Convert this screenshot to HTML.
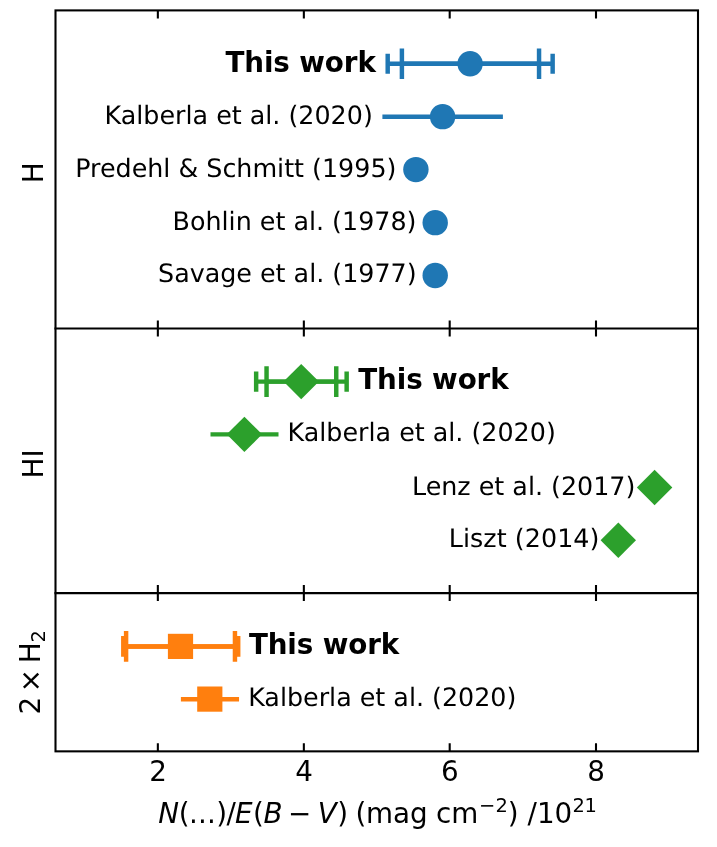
<!DOCTYPE html>
<html lang="en">
<head>
<meta charset="utf-8">
<title>N(...)/E(B-V) comparison</title>
<style>
  html, body { margin: 0; padding: 0; background: #ffffff; }
  body { width: 717px; height: 847px; overflow: hidden; }
  svg { display: block; will-change: transform; }
  text { font-family: "DejaVu Sans", "Liberation Sans", sans-serif; fill: #000000; }
  .ref { font-size: 25.37px; text-rendering: geometricPrecision; }
  .tw  { font-size: 27.78px; font-weight: bold; letter-spacing: -0.12px; }
  .tick { font-size: 27.78px; text-anchor: middle; }
  .lab { font-size: 27.78px; }
  .it  { font-style: oblique; }
  .sup { font-size: 19.45px; }
  .spine { fill: none; stroke: #000000; stroke-width: 2.08; stroke-linecap: square; }
  .tk { stroke: #000000; stroke-width: 2.08; fill: none; }
  .b { stroke: #1f77b4; fill: none; stroke-width: 4.45; }
  .g { stroke: #2ca02c; fill: none; stroke-width: 4.45; }
  .o { stroke: #ff7f0e; fill: none; stroke-width: 4.45; }
  .bf { fill: #1f77b4; stroke: none; }
  .gf { fill: #2ca02c; stroke: none; }
  .of { fill: #ff7f0e; stroke: none; }
</style>
</head>
<body>
<svg width="717" height="847" viewBox="0 0 717 847">
  <rect x="0" y="0" width="717" height="847" fill="#ffffff"/>

  <!-- ===== top panel : H (blue) ===== -->
  <g>
    <!-- This work -->
    <path class="b" d="M387.7 63.75H552.65 M387.7 53.75V73.75 M552.65 53.75V73.75"/>
    <path class="b" d="M401.9 63.75H539.05 M401.9 48.4V79.1 M539.05 48.4V79.1"/>
    <circle class="bf" cx="470.1" cy="63.8" r="12.7"/>
    <text class="tw" x="225.5" y="72">This work</text>
    <!-- Kalberla -->
    <path class="b" d="M382.4 116.65H502.9"/>
    <circle class="bf" cx="442.6" cy="116.65" r="12.7"/>
    <text class="ref" x="104.6" y="124">Kalberla et al. (2020)</text>
    <!-- Predehl & Schmitt -->
    <circle class="bf" cx="415.9" cy="169.6" r="12.7"/>
    <text class="ref" x="75.25" y="177">Predehl &amp; Schmitt (1995)</text>
    <!-- Bohlin -->
    <circle class="bf" cx="435.2" cy="222.65" r="12.7"/>
    <text class="ref" x="172.6" y="230">Bohlin et al. (1978)</text>
    <!-- Savage -->
    <circle class="bf" cx="435.2" cy="275.5" r="12.7"/>
    <text class="ref" x="158.05" y="282">Savage et al. (1977)</text>
  </g>

  <!-- ===== middle panel : HI (green) ===== -->
  <g>
    <path class="g" d="M256.15 381.6H346.65 M256.15 371.4V391.8 M346.65 371.4V391.8"/>
    <path class="g" d="M266.55 381.6H336.25 M266.55 366.3V396.9 M336.25 366.3V396.9"/>
    <path class="gf" d="M301.2 363.9L318.9 381.6L301.2 399.3L283.5 381.6Z"/>
    <text class="tw" x="358.3" y="389">This work</text>

    <path class="g" d="M210.5 434.35H278.5"/>
    <path class="gf" d="M244.4 416.65L262.1 434.35L244.4 452.05L226.7 434.35Z"/>
    <text class="ref" x="287.6" y="441">Kalberla et al. (2020)</text>

    <path class="gf" d="M654.6 469.8L672.3 487.5L654.6 505.2L636.9 487.5Z"/>
    <text class="ref" x="412" y="495">Lenz et al. (2017)</text>

    <path class="gf" d="M618.3 522.6L636 540.3L618.3 558L600.6 540.3Z"/>
    <text class="ref" x="448.75" y="547" style="letter-spacing:0.06px">Liszt (2014)</text>
  </g>

  <!-- ===== bottom panel : 2 x H2 (orange) ===== -->
  <g>
    <path class="o" d="M123.3 646.45H238.2 M123.3 636.1V656.8 M238.2 636.1V656.8"/>
    <path class="o" d="M126.1 646.45H234.95 M126.1 631.1V661.8 M234.95 631.1V661.8"/>
    <rect class="of" x="167.9" y="633.8" width="25.2" height="25.2"/>
    <text class="tw" x="248.9" y="654">This work</text>

    <path class="o" d="M180.9 699.2H239.05"/>
    <rect class="of" x="197.2" y="686.5" width="25.2" height="25.2"/>
    <text class="ref" x="248.2" y="706">Kalberla et al. (2020)</text>
  </g>

  <!-- ===== ticks ===== -->
  <g class="tk">
    <path d="M157.85 10.4v8 M303.85 10.4v8 M449.7 10.4v8 M596 10.4v8"/>
    <path d="M157.85 320.5v16 M303.85 320.5v16 M449.7 320.5v16 M596 320.5v16"/>
    <path d="M157.85 585.1v16 M303.85 585.1v16 M449.7 585.1v16 M596 585.1v16"/>
    <path d="M157.85 751.35v-8 M303.85 751.35v-8 M449.7 751.35v-8 M596 751.35v-8"/>
  </g>

  <!-- ===== spines ===== -->
  <rect class="spine" x="55.5" y="10.4" width="642.5" height="740.95"/>
  <path class="spine" d="M55.5 328.5H698 M55.5 593.1H698"/>

  <!-- ===== tick labels ===== -->
  <text class="tick" x="158.05" y="781.2">2</text>
  <text class="tick" x="304.05" y="781.2">4</text>
  <text class="tick" x="449.9" y="781.2">6</text>
  <text class="tick" x="596.2" y="781.2">8</text>

  <!-- ===== x label ===== -->
  <text class="lab" y="823"><tspan class="it" x="158.35">N</tspan><tspan x="178.87">(</tspan><tspan x="189">.</tspan><tspan x="198">.</tspan><tspan x="207">.</tspan><tspan x="216.28">)</tspan><tspan x="226.6">/</tspan><tspan class="it" x="235.05">E</tspan><tspan x="253.1">(</tspan><tspan class="it" x="263.45">B</tspan><tspan x="288.06">−</tspan><tspan class="it" x="317.8">V</tspan><tspan x="337.3">)</tspan><tspan x="347"> </tspan><tspan x="355.6">(</tspan><tspan x="366">mag</tspan><tspan x="427"> </tspan><tspan x="435.9">cm</tspan><tspan class="sup" x="479" y="812">−</tspan><tspan class="sup" x="495.4" y="812">2</tspan><tspan x="507.8" y="823">)</tspan><tspan x="518.6"> </tspan><tspan x="527.6">/</tspan><tspan x="537">1</tspan><tspan x="554.5">0</tspan><tspan class="sup" x="572.5" y="812">2</tspan><tspan class="sup" x="584.4" y="812">1</tspan></text>

  <!-- ===== y labels ===== -->
  <text class="lab" transform="translate(42.7 183.35) rotate(-90)">H</text>
  <text class="lab" transform="translate(42.7 478.5) rotate(-90)">HI</text>
  <text class="lab" transform="translate(39.8 713.7) rotate(-90)"><tspan x="-0.8" y="0">2</tspan><tspan x="21.45" y="-0.25">×</tspan><tspan x="50.4" y="0">H</tspan><tspan class="sup" x="71.3" y="4.9">2</tspan></text>
</svg>
</body>
</html>
